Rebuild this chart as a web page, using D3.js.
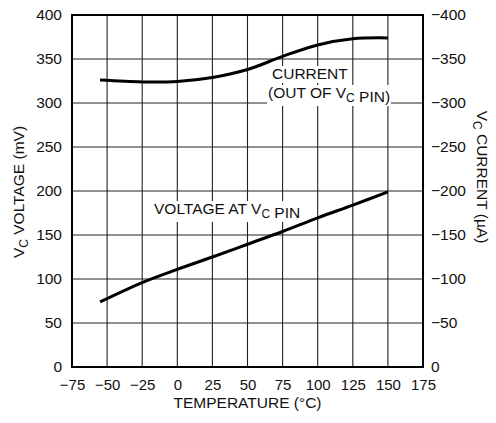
<!DOCTYPE html>
<html>
<head>
<meta charset="utf-8">
<script src="https://d3js.org/d3.v7.min.js"></script>
<style>
  body { margin: 0; background: #fff; }
  text { font-family: "Liberation Sans", Arial, sans-serif; font-size: 15.5px; fill: #111; }
</style>
</head>
<body>
<svg width="496" height="423"></svg>
<script>
// data
var xTicks = [-75, -50, -25, 0, 25, 50, 75, 100, 125, 150, 175];
var yTicks = [0, 50, 100, 150, 200, 250, 300, 350, 400];
var yRightTicks = [0, -50, -100, -150, -200, -250, -300, -350, -400];

var voltageTemp = [-55, -25, 0, 25, 50, 75, 100, 125, 150];
var voltage = [74, 96, 111, 125, 139.5, 154, 169.5, 184, 199];       // mV

var currentTemp = [-55, -25, 0, 25, 50, 75, 100, 125, 150];
var current = [-326, -324, -324.5, -329, -338, -353, -366, -373, -374]; // uA

var svg = d3.select("svg"),
	mLeft = 72, mRight = 423, mTop = 15, mBottom = 367;

var x = d3.scaleLinear().domain([-75, 175]).range([mLeft, mRight]);
var y = d3.scaleLinear().domain([0, 400]).range([mBottom, mTop]);
var yR = d3.scaleLinear().domain([0, -400]).range([mBottom, mTop]);

// grid
var grid = svg.append("g").attr("stroke", "#222").attr("stroke-width", 1.1);
grid.selectAll(".vx").data(xTicks.slice(1, -1)).enter().append("line")
	.attr("x1", d => x(d)).attr("x2", d => x(d))
	.attr("y1", mTop).attr("y2", mBottom);
grid.selectAll(".hy").data(yTicks.slice(1, -1)).enter().append("line")
	.attr("x1", mLeft).attr("x2", mRight)
	.attr("y1", d => y(d)).attr("y2", d => y(d));

// axes (labels only, ticks hidden)
var fmt = d => (d < 0 ? "\u2212" + Math.abs(d) : "" + d);

function clean(g) {
	g.select(".domain").remove();
	g.selectAll("text").attr("font-size", null).attr("font-family", null).attr("fill", "#111");
}

svg.append("g")
	.attr("transform", "translate(0," + mBottom + ")")
	.call(d3.axisBottom(x).tickValues(xTicks).tickSize(0).tickPadding(12).tickFormat(fmt))
	.call(clean)
	.selectAll("text").style("font-size", "15px");

svg.append("g")
	.attr("transform", "translate(" + mLeft + ",0)")
	.call(d3.axisLeft(y).tickValues(yTicks).tickSize(0).tickPadding(10))
	.call(clean);

svg.append("g")
	.attr("transform", "translate(" + mRight + ",0)")
	.call(d3.axisRight(yR).tickValues(yRightTicks).tickSize(0).tickPadding(8).tickFormat(fmt))
	.call(clean);

// curve labels with white backgrounds
function label(tx, ty, parts) {
	var t = svg.append("text").attr("x", tx).attr("y", ty);
	parts.forEach(function(p) {
		if (p.sub) {
			t.append("tspan").attr("font-size", "12px").attr("dy", 4).text(p.sub);
			t.append("tspan").attr("dy", -4).text("");
		} else {
			t.append("tspan").text(p.t);
		}
	});
	return t;
}

var labels = [
	{x: 272, y: 79, parts: [{t: "CURRENT"}]},
	{x: 268, y: 98, parts: [{t: "(OUT OF V"}, {sub: "C"}, {t: " PIN)"}]},
	{x: 154, y: 214, parts: [{t: "VOLTAGE AT V"}, {sub: "C"}, {t: " PIN"}]}
];
var bgLayer = svg.append("g");
labels.forEach(function(l) {
	var t = label(l.x, l.y, l.parts);
	var b = t.node().getBBox();
	bgLayer.append("rect")
		.attr("x", b.x - 1).attr("y", b.y + 1)
		.attr("width", b.width + 2).attr("height", b.height)
		.attr("fill", "#fff");
	t.raise();
});

// frame
svg.append("rect")
	.attr("x", mLeft).attr("y", mTop)
	.attr("width", mRight - mLeft).attr("height", mBottom - mTop)
	.attr("fill", "none").attr("stroke", "#000").attr("stroke-width", 2);

// curves
var vLine = d3.line()
	.x((d, i) => x(voltageTemp[i]))
	.y(d => y(d))
	.curve(d3.curveCatmullRom.alpha(0.5));
var iLine = d3.line()
	.x((d, i) => x(currentTemp[i]))
	.y(d => yR(d))
	.curve(d3.curveCatmullRom.alpha(0.5));

svg.append("path").datum(voltage).attr("d", vLine)
	.attr("fill", "none").attr("stroke", "#000").attr("stroke-width", 3);
svg.append("path").datum(current).attr("d", iLine)
	.attr("fill", "none").attr("stroke", "#000").attr("stroke-width", 3);

// axis titles
svg.append("text")
	.attr("x", (mLeft + mRight) / 2).attr("y", 408)
	.attr("text-anchor", "middle")
	.text("TEMPERATURE (\u00B0C)");

var lt = svg.append("text")
	.attr("transform", "translate(24,192) rotate(-90)")
	.attr("text-anchor", "middle");
lt.append("tspan").text("V");
lt.append("tspan").attr("font-size", "12px").attr("dy", 4).text("C");
lt.append("tspan").attr("dy", -4).text(" VOLTAGE (mV)");

var rt = svg.append("text")
	.attr("transform", "translate(476.5,177) rotate(90)")
	.attr("text-anchor", "middle");
rt.append("tspan").text("V");
rt.append("tspan").attr("font-size", "12px").attr("dy", 4).text("C");
rt.append("tspan").attr("dy", -4).text(" CURRENT (\u00B5A)");
</script>
</body>
</html>
